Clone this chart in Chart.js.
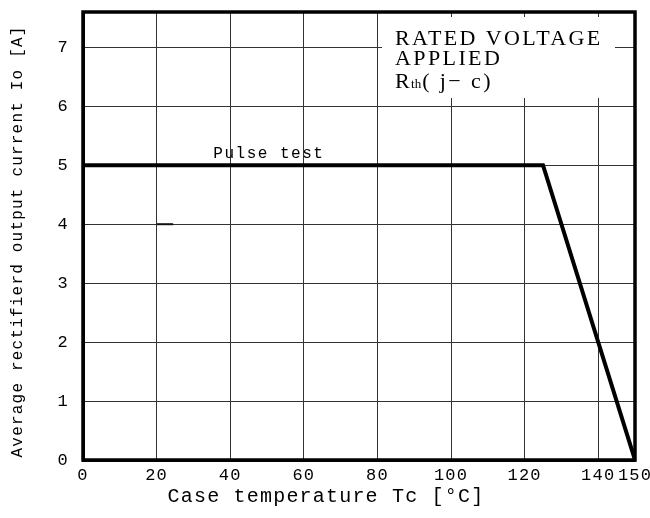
<!DOCTYPE html>
<html>
<head>
<meta charset="utf-8">
<script src="https://cdn.jsdelivr.net/npm/chart.js@4"></script>
<style>
  html, body { margin:0; padding:0; background:#fff; }
  #wrap { width:650px; height:518px; }
</style>
</head>
<body>
<div id="wrap"><canvas id="chart" width="650" height="518"></canvas></div>
<script>
// derating curve data
const xTicks = [0, 20, 40, 60, 80, 100, 120, 140, 150];
const yTicks = [0, 1, 2, 3, 4, 5, 6, 7];
const caseTemp = [0, 125, 150];
const outCurrent = [5, 5, 0];
// short dark stub on the 4 A gridline
const stubTemp = [20, 24.5];
const stubCurrent = [4, 4];

const MONO = "'Liberation Mono', monospace";
const SERIF = "'Liberation Serif', serif";

// spaced-out lettering for the axes
const spacingPlugin = {
  id: 'spacing',
  beforeDraw(chart){ chart.ctx.letterSpacing = '1.2px'; },
  beforeDatasetsDraw(chart){ chart.ctx.letterSpacing = '0px'; }
};

// frame, "Pulse test" and the note box
const notesPlugin = {
  id: 'notes',
  afterDraw(chart){
    const ctx = chart.ctx;
    const a = chart.chartArea;
    const xs = chart.scales.x, ys = chart.scales.y;
    ctx.save();
    ctx.letterSpacing = '0px';
    ctx.strokeStyle = '#000';
    ctx.lineWidth = 3.5;
    ctx.strokeRect(a.left, a.top, a.right - a.left, a.bottom - a.top);

    // pulse test label
    ctx.fillStyle = '#000';
    ctx.letterSpacing = '1.5px';
    ctx.font = '16px ' + MONO;
    ctx.textAlign = 'center';
    ctx.textBaseline = 'alphabetic';
    ctx.fillText('Pulse test', xs.getPixelForValue(50.5), ys.getPixelForValue(5) - 7);

    // note box
    const bx = a.left + 299, by = a.top + 5;
    ctx.fillStyle = '#fff';
    ctx.fillRect(bx, by, 233, 81);
    ctx.fillStyle = '#000';
    ctx.textAlign = 'left';
    ctx.letterSpacing = '2.4px';
    ctx.font = '22px ' + SERIF;
    const tx = bx + 13;
    ctx.fillText('RATED VOLTAGE', tx, by + 28);
    ctx.fillText('APPLIED', tx, by + 48);
    ctx.fillText('R', tx, by + 71);
    let w = ctx.measureText('R').width;
    ctx.font = '13px ' + SERIF;
    ctx.letterSpacing = '0px';
    ctx.fillText('th', tx + w - 1, by + 71);
    w += ctx.measureText('th').width;
    ctx.font = '22px ' + SERIF;
    ctx.letterSpacing = '2.4px';
    ctx.fillText('( j\u2212 c)', tx + w, by + 71);
    ctx.restore();
  }
};

new Chart(document.getElementById('chart'), {
  type: 'scatter',
  data: {
    datasets: [
      {
        data: caseTemp.map((t, i) => ({ x: t, y: outCurrent[i] })),
        showLine: true,
        borderColor: '#000',
        borderWidth: 4,
        pointRadius: 0,
        tension: 0
      },
      {
        data: stubTemp.map((t, i) => ({ x: t, y: stubCurrent[i] })),
        showLine: true,
        borderColor: '#111',
        borderWidth: 2,
        pointRadius: 0
      }
    ]
  },
  options: {
    responsive: false,
    animation: false,
    layout: { padding: { top: 12, right: 15, left: 0, bottom: 0 } },
    plugins: { legend: { display: false }, tooltip: { enabled: false } },
    scales: {
      x: {
        type: 'linear', min: 0, max: 150,
        afterBuildTicks: s => { s.ticks = xTicks.map(v => ({ value: v })); },
        afterFit: s => { s.height = 58; s.paddingLeft = 0; s.paddingRight = 0; },
        grid: { color: '#333', lineWidth: 1, drawTicks: false },
        border: { display: true, color: '#000', width: 3 },
        ticks: { color: '#000', padding: 5, maxRotation: 0, autoSkip: false,
                 font: { family: MONO, size: 17 } },
        title: { display: true, text: 'Case temperature Tc [\u00b0C]     ', color: '#000',
                 font: { family: MONO, size: 20 }, padding: { top: 9, bottom: 9 } }
      },
      y: {
        type: 'linear', min: 0, max: 7.6,
        afterBuildTicks: s => { s.ticks = yTicks.map(v => ({ value: v })); },
        afterFit: s => { s.width = 83; s.paddingTop = 0; s.paddingBottom = 0; },
        grid: { color: '#333', lineWidth: 1, drawTicks: false },
        border: { display: true, color: '#000', width: 3 },
        ticks: { color: '#000', padding: 14, autoSkip: false,
                 font: { family: MONO, size: 17 } },
        title: { display: true, text: 'Average rectifierd output current Io [A] ', color: '#000',
                 font: { family: MONO, size: 16 }, padding: { top: 8, bottom: 8 } }
      }
    }
  },
  plugins: [spacingPlugin, notesPlugin]
});
</script>
</body>
</html>
